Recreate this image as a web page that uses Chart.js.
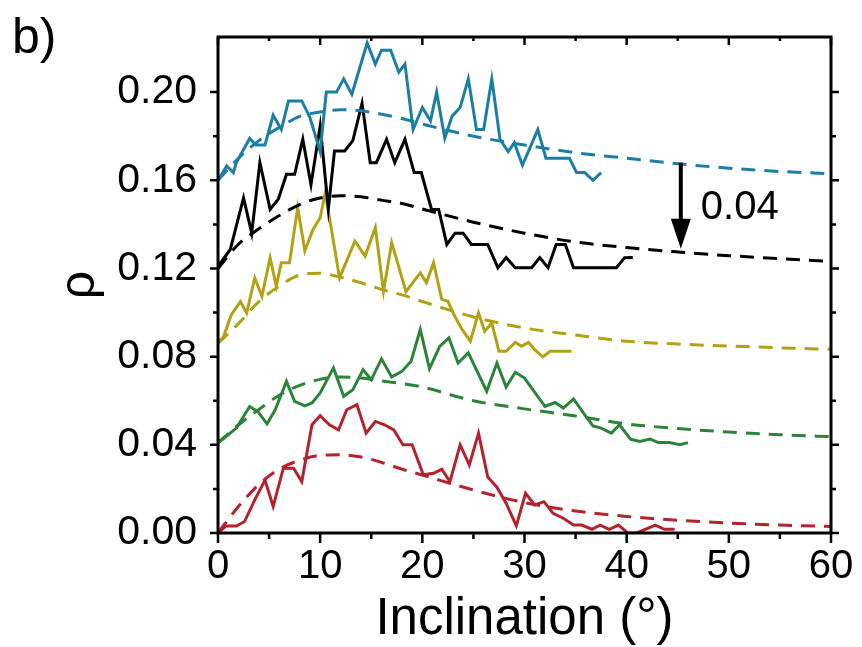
<!DOCTYPE html>
<html lang="en">
  <head>
    <meta charset="UTF-8" />
    <title>Inclination</title>
    <script src="https://cdn.jsdelivr.net/npm/chart.js"></script>
    <style>
      html, body { margin: 0; padding: 0; background: #fff; }
      #box { width: 862px; height: 647px; position: relative; }
    </style>
  </head>
  <body>
    <div id="box"><canvas id="grafico"></canvas></div>
  </body>
</html>

<script>
  // measured curves (solid), one x/y pair of arrays per colour
  const blueX = [0, 0.85, 1.5, 1.8, 3.1, 3.7, 4.6, 5.4, 6.2, 6.9, 8.2, 9.0, 10.0, 10.6, 11.6, 12.3, 13.1, 14.6, 15.4, 16.0, 16.9, 17.7, 18.3, 19.1, 20.0, 20.8, 21.4, 22.2, 22.9, 23.7, 24.5, 25.3, 26.0, 26.8, 27.6, 28.4, 29.0, 29.8, 31.3, 32.1, 34.4, 35.1, 35.9, 36.7, 37.5];
  const blueY = [0.160, 0.1665, 0.1635, 0.168, 0.179, 0.176, 0.176, 0.1895, 0.183, 0.196, 0.196, 0.1885, 0.173, 0.200, 0.200, 0.206, 0.199, 0.2223, 0.2127, 0.219, 0.219, 0.209, 0.2127, 0.183, 0.193, 0.187, 0.200, 0.179, 0.189, 0.193, 0.206, 0.183, 0.183, 0.206, 0.1786, 0.173, 0.177, 0.1668, 0.183, 0.170, 0.170, 0.1635, 0.1635, 0.160, 0.1635];

  const blackX = [0, 1.2, 2.5, 3.3, 4.1, 5.1, 5.9, 6.7, 7.5, 8.3, 9.1, 10.0, 10.8, 11.4, 12.4, 13.2, 14.1, 14.9, 15.5, 16.5, 17.3, 18.3, 19.2, 19.9, 20.9, 21.6, 22.4, 23.2, 24.0, 24.8, 26.4, 27.4, 28.2, 29.1, 30.7, 31.5, 32.3, 33.1, 34.0, 34.8, 39.0, 39.8, 40.6];
  const blackY = [0.121, 0.1286, 0.152, 0.136, 0.168, 0.1468, 0.1514, 0.1627, 0.1627, 0.1786, 0.158, 0.1847, 0.147, 0.1733, 0.1733, 0.178, 0.195, 0.168, 0.168, 0.1786, 0.168, 0.1786, 0.1635, 0.1635, 0.1468, 0.1468, 0.1309, 0.136, 0.136, 0.1309, 0.1309, 0.1203, 0.1249, 0.1203, 0.1203, 0.1249, 0.1203, 0.1309, 0.1309, 0.1203, 0.1203, 0.1249, 0.125];

  const yellowX = [0, 0.5, 1.3, 2.2, 2.8, 3.6, 4.3, 5.1, 5.7, 6.2, 7.0, 7.8, 8.5, 9.3, 10.0, 10.5, 11.9, 13.4, 14.4, 15.4, 16.2, 17.0, 18.4, 19.8, 20.4, 21.1, 21.9, 22.5, 23.1, 23.8, 24.7, 25.5, 26.1, 26.8, 27.5, 28.2, 29.1, 29.7, 30.4, 31.0, 31.8, 32.5, 34.6];
  const yellowY = [0.087, 0.0885, 0.099, 0.105, 0.0998, 0.1157, 0.1074, 0.1249, 0.112, 0.1226, 0.1226, 0.1476, 0.128, 0.1377, 0.143, 0.1544, 0.1157, 0.1324, 0.1256, 0.1385, 0.1097, 0.1317, 0.1095, 0.118, 0.1135, 0.1226, 0.106, 0.1051, 0.099, 0.093, 0.087, 0.0999, 0.0915, 0.0953, 0.0824, 0.0824, 0.0865, 0.0847, 0.0865, 0.0832, 0.0799, 0.0824, 0.0824];

  const greenX = [0, 1.8, 3.1, 3.9, 4.8, 5.6, 6.7, 7.5, 8.5, 9.2, 10.0, 11.3, 12.3, 13.2, 14.2, 15.0, 16.0, 17.0, 18.0, 18.9, 19.8, 20.7, 21.7, 22.6, 23.5, 24.5, 26.3, 27.3, 28.2, 29.1, 30.0, 32.0, 33.0, 33.8, 34.8, 35.9, 36.7, 37.5, 38.5, 39.3, 40.4, 41.3, 42.3, 43.1, 44.2, 45.2, 46.0];
  const greenY = [0.0408, 0.0476, 0.0574, 0.0551, 0.0495, 0.0559, 0.0688, 0.0597, 0.0577, 0.059, 0.0635, 0.0749, 0.062, 0.065, 0.0741, 0.0695, 0.079, 0.0708, 0.0733, 0.0779, 0.0923, 0.0746, 0.0847, 0.0885, 0.0771, 0.0817, 0.0643, 0.0771, 0.0662, 0.0729, 0.0703, 0.0574, 0.0592, 0.0567, 0.0608, 0.0536, 0.0486, 0.0476, 0.0453, 0.0491, 0.0425, 0.0415, 0.0426, 0.041, 0.041, 0.040, 0.041];

  const redX = [0, 0.8, 1.8, 2.6, 3.6, 4.6, 5.4, 6.4, 7.4, 8.2, 9.2, 10.0, 10.9, 11.8, 12.6, 13.6, 14.5, 15.4, 16.3, 17.2, 18.1, 19.0, 20.1, 21.1, 21.9, 22.7, 23.7, 24.6, 25.5, 26.4, 27.3, 28.2, 29.2, 30.1, 31.0, 31.9, 32.8, 33.8, 34.8, 35.6, 36.6, 37.4, 38.3, 39.2, 40.1, 41.0, 42.8, 43.7, 44.7];
  const redY = [0, 0.0032, 0.0032, 0.0052, 0.015, 0.024, 0.0121, 0.0294, 0.0294, 0.0233, 0.0491, 0.0532, 0.0491, 0.0468, 0.0559, 0.0582, 0.0453, 0.0506, 0.0491, 0.0468, 0.040, 0.040, 0.0264, 0.0271, 0.0289, 0.0233, 0.040, 0.0309, 0.0453, 0.0254, 0.0208, 0.0135, 0.0032, 0.018, 0.0127, 0.0142, 0.0089, 0.0067, 0.0036, 0.0036, 0.0017, 0.0036, 0.0017, 0.0036, 0, 0, 0.0036, 0.0017, 0.0017];

  // fitted curves (dashed)
  const fitX = [0, 2, 4, 6, 8, 10, 12, 14, 16, 18, 20, 25, 30, 35, 40, 45, 50, 55, 60];
  const blueFit = [0.160, 0.170, 0.178, 0.184, 0.189, 0.191, 0.192, 0.1915, 0.190, 0.188, 0.1855, 0.180, 0.176, 0.1725, 0.170, 0.1675, 0.1655, 0.164, 0.163];
  const blackFit = [0.120, 0.131, 0.138, 0.144, 0.149, 0.152, 0.153, 0.1525, 0.151, 0.1495, 0.147, 0.141, 0.136, 0.132, 0.1295, 0.1275, 0.1258, 0.1245, 0.1232];
  const yellowFit = [0.086, 0.095, 0.105, 0.112, 0.117, 0.1178, 0.116, 0.1135, 0.1105, 0.108, 0.105, 0.098, 0.093, 0.0898, 0.087, 0.0857, 0.0848, 0.084, 0.0833];
  const greenFit = [0.041, 0.049, 0.056, 0.0625, 0.067, 0.0697, 0.0708, 0.0703, 0.069, 0.0678, 0.0662, 0.060, 0.0563, 0.0531, 0.0495, 0.0474, 0.0458, 0.0446, 0.0437];
  const redFit = [0, 0.012, 0.022, 0.029, 0.033, 0.0352, 0.0355, 0.0345, 0.032, 0.029, 0.0263, 0.0195, 0.0138, 0.010, 0.0075, 0.0058, 0.0045, 0.0036, 0.003];

  // offset arrow between blue and black curves
  const setaX = 45.3;
  const setaTopo = 0.168;
  const setaBase = 0.129;
  const setaTexto = "0.04";

  const cores = {
    azul: "#1b7fa3",
    preto: "#000000",
    amarelo: "#b3a114",
    verde: "#2b843a",
    vermelho: "#b5222e",
  };

  function pontos(xs, ys) {
    return xs.map((x, i) => ({ x: x, y: ys[i] }));
  }

  function solida(xs, ys, cor) {
    return {
      data: pontos(xs, ys),
      borderColor: cor,
      borderWidth: 3,
      pointRadius: 0,
      tension: 0,
      fill: false,
    };
  }

  function tracejada(ys, cor) {
    return {
      data: pontos(fitX, ys),
      borderColor: cor,
      borderWidth: 3,
      borderDash: [14, 9],
      pointRadius: 0,
      cubicInterpolationMode: "monotone",
      fill: false,
    };
  }

  function multiplo(v, passo) {
    return Math.abs(Math.round(v / passo) * passo - v) < 1e-9;
  }

  const moldura = {
    id: "moldura",
    afterDraw(chart) {
      const ctx = chart.ctx;
      const a = chart.chartArea;
      const sx = chart.scales.x;
      const sy = chart.scales.y;
      ctx.save();
      ctx.strokeStyle = "#000";
      ctx.lineWidth = 2.5;
      ctx.beginPath();
      sx.ticks.forEach((t) => {
        if (!multiplo(t.value, 5)) return;
        const px = sx.getPixelForValue(t.value);
        const len = multiplo(t.value, 10) ? 10 : 6;
        ctx.moveTo(px, a.bottom);
        ctx.lineTo(px, a.bottom + len);
        ctx.moveTo(px, a.top);
        ctx.lineTo(px, a.top + len - 2);
      });
      sy.ticks.forEach((t) => {
        if (!multiplo(t.value, 0.02)) return;
        const py = sy.getPixelForValue(t.value);
        const len = multiplo(t.value, 0.04) ? 8 : 5;
        ctx.moveTo(a.left, py);
        ctx.lineTo(a.left - len, py);
        ctx.moveTo(a.right, py);
        ctx.lineTo(a.right + len, py);
      });
      ctx.stroke();
      ctx.lineWidth = 3;
      ctx.strokeRect(a.left, a.top, a.right - a.left, a.bottom - a.top);

      // arrow
      const ax = sx.getPixelForValue(setaX);
      const ay1 = sy.getPixelForValue(setaTopo);
      const ay2 = sy.getPixelForValue(setaBase);
      ctx.lineWidth = 4;
      ctx.beginPath();
      ctx.moveTo(ax, ay1);
      ctx.lineTo(ax, ay2 - 28);
      ctx.stroke();
      ctx.fillStyle = "#000";
      ctx.beginPath();
      ctx.moveTo(ax - 10, ay2 - 30);
      ctx.lineTo(ax + 10, ay2 - 30);
      ctx.lineTo(ax, ay2);
      ctx.closePath();
      ctx.fill();

      ctx.font = "40px 'Liberation Sans', Arial, sans-serif";
      ctx.textBaseline = "middle";
      ctx.textAlign = "left";
      ctx.fillText(setaTexto, ax + 20, (ay1 + ay2) / 2 + 2);

      ctx.font = "50px 'Liberation Sans', Arial, sans-serif";
      ctx.textBaseline = "alphabetic";
      ctx.fillText("b)", 12, 53);
      ctx.restore();
    },
  };

  const data = {
    datasets: [
      solida(blueX, blueY, cores.azul),
      tracejada(blueFit, cores.azul),
      solida(blackX, blackY, cores.preto),
      tracejada(blackFit, cores.preto),
      solida(yellowX, yellowY, cores.amarelo),
      tracejada(yellowFit, cores.amarelo),
      solida(greenX, greenY, cores.verde),
      tracejada(greenFit, cores.verde),
      solida(redX, redY, cores.vermelho),
      tracejada(redFit, cores.vermelho),
    ],
  };

  const fonte = "'Liberation Sans', Arial, sans-serif";

  const config = {
    type: "line",
    data: data,
    options: {
      responsive: true,
      maintainAspectRatio: false,
      animation: false,
      layout: { padding: { top: 37, right: 31, bottom: 0, left: 0 } },
      plugins: {
        legend: { display: false },
        tooltip: { enabled: false },
      },
      scales: {
        x: {
          type: "linear",
          min: 0,
          max: 60,
          grid: { display: false, drawTicks: false },
          border: { display: false },
          ticks: {
            stepSize: 5,
            autoSkip: false,
            maxRotation: 0,
            padding: 10,
            color: "#000",
            font: { family: fonte, size: 40 },
            callback: (v) => (multiplo(v, 10) ? String(v) : ""),
          },
          title: {
            display: true,
            text: "Inclination (°)",
            color: "#000",
            font: { family: fonte, size: 51, lineHeight: 1 },
            padding: { top: 0, bottom: 2 },
          },
          afterFit: (s) => {
            s.height = 114;
            s.paddingLeft = 0;
            s.paddingRight = 0;
          },
        },
        y: {
          min: 0,
          max: 0.225,
          grid: { display: false, drawTicks: false },
          border: { display: false },
          ticks: {
            stepSize: 0.02,
            autoSkip: false,
            padding: 21,
            color: "#000",
            font: { family: fonte, size: 41 },
            callback: (v) => (multiplo(v, 0.04) ? v.toFixed(2) : ""),
          },
          title: {
            display: true,
            text: "ρ",
            color: "#000",
            font: { family: fonte, size: 50, lineHeight: 1 },
            padding: { top: 55, bottom: 0 },
          },
          afterFit: (s) => {
            s.width = 218;
            s.paddingTop = 0;
            s.paddingBottom = 0;
          },
        },
      },
    },
    plugins: [moldura],
  };

  const myChart = new Chart(document.getElementById("grafico"), config);
</script>
